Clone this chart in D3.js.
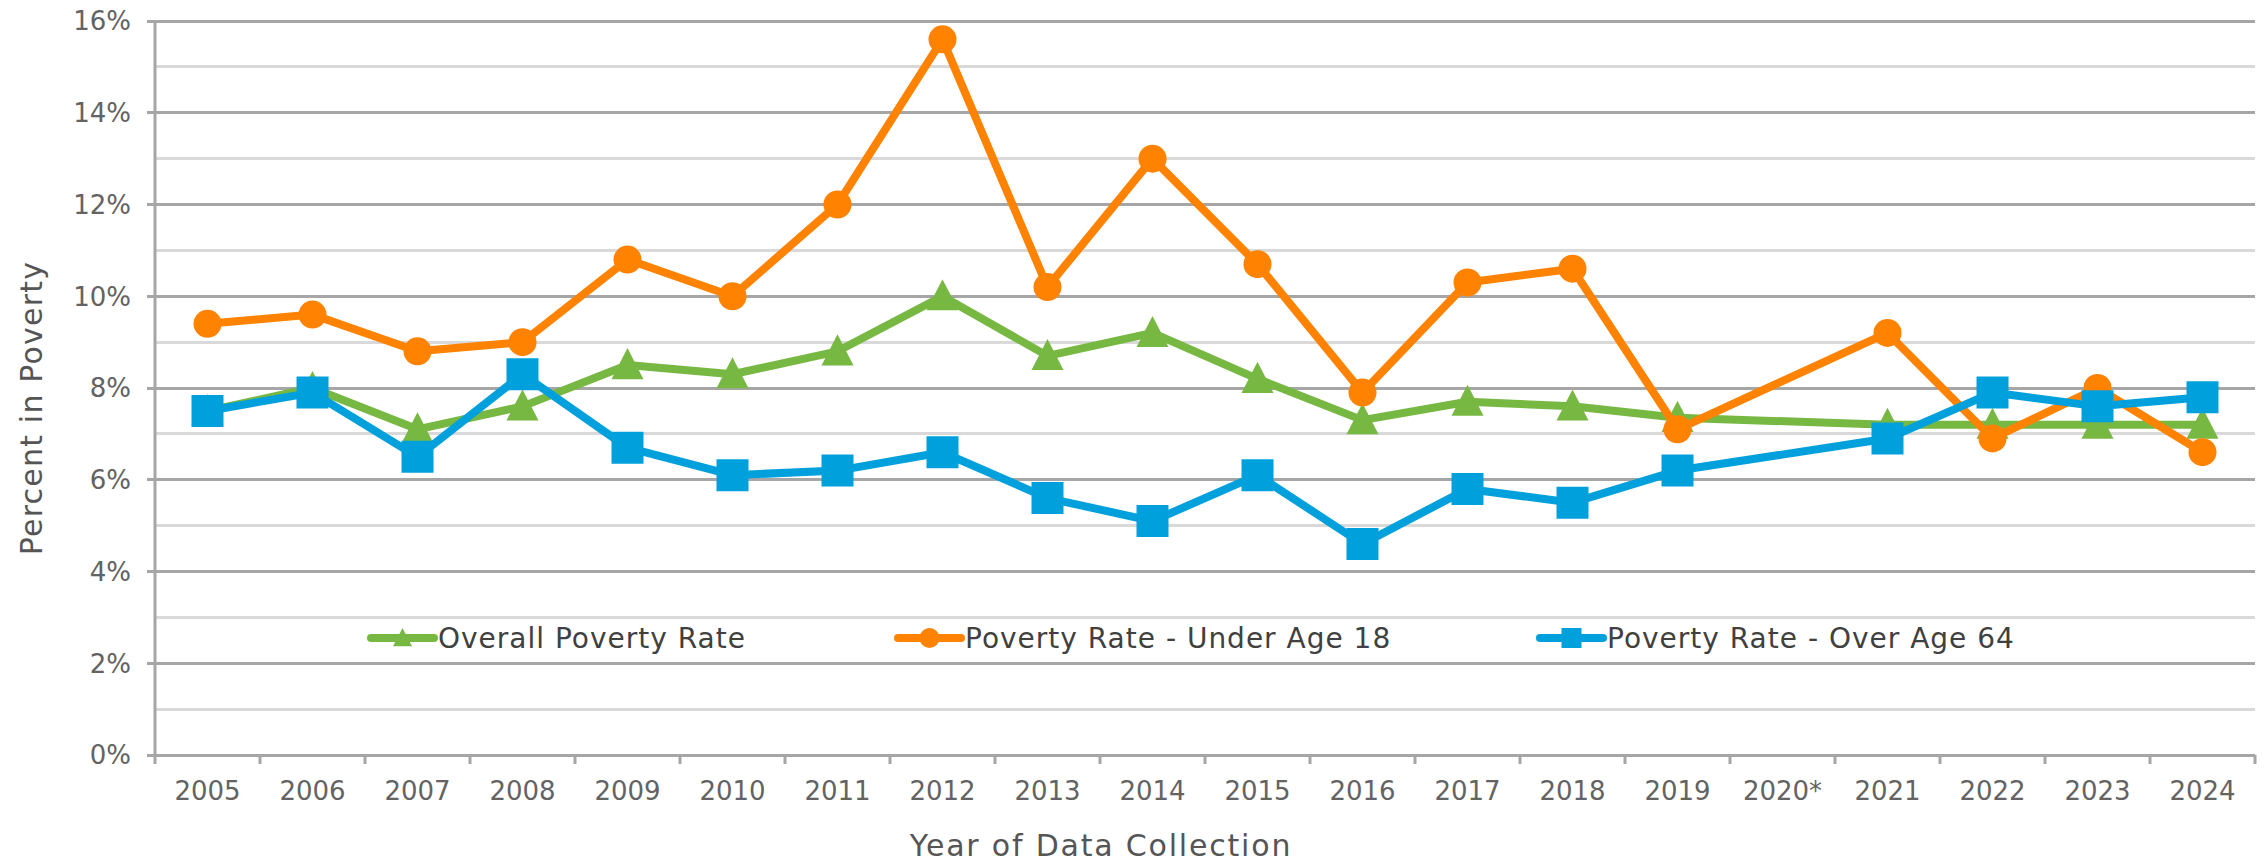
<!DOCTYPE html>
<html lang="en">
<head>
  <meta charset="UTF-8">
  <title>Poverty Rates by Year</title>
  <style>
  body { margin: 0; background: #fff; }
  svg { display: block; }
  .grid line { shape-rendering: crispEdges; }
  .tick-label { font-family: "DejaVu Sans", sans-serif; fill: #636363; }
  .axis-title { font-family: "DejaVu Sans", sans-serif; fill: #555; }
  .legend text { font-family: "DejaVu Sans", sans-serif; fill: #404040; }
  </style>
</head>
<body>
  <script src="https://d3js.org/d3.v7.min.js"></script>
  <script type="text/javascript">

    var width = 2264;
    var height = 867;

    // data (percent); 2020 has no value
    var years = ["2005","2006","2007","2008","2009","2010","2011","2012","2013","2014",
                 "2015","2016","2017","2018","2019","2020*","2021","2022","2023","2024"];
    var overall = [7.5, 8.0, 7.1, 7.6, 8.5, 8.3, 8.8, 10.0, 8.7, 9.2,
                   8.2, 7.3, 7.7, 7.6, 7.35, null, 7.2, 7.2, 7.2, 7.2];
    var under18 = [9.4, 9.6, 8.8, 9.0, 10.8, 10.0, 12.0, 15.6, 10.2, 13.0,
                   10.7, 7.9, 10.3, 10.6, 7.1, null, 9.2, 6.9, 8.0, 6.6];
    var over64  = [7.5, 7.9, 6.5, 8.3, 6.7, 6.1, 6.2, 6.6, 5.6, 5.1,
                   6.1, 4.6, 5.8, 5.5, 6.2, null, 6.9, 7.9, 7.6, 7.8];
    var seriesNames = ["Overall Poverty Rate", "Poverty Rate - Under Age 18", "Poverty Rate - Over Age 64"];
    var yTicks = [0, 2, 4, 6, 8, 10, 12, 14, 16];

    var margin = {left: 155, right: 9, top: 21, bottom: 112};

    var svg = d3.select("body")
        .append("svg")
          .attr("width", width)
          .attr("height", height);

    var x = d3.scaleBand()
        .domain(years)
        .range([margin.left, width - margin.right]);

    var y = d3.scaleLinear()
        .domain([0, 16])
        .range([height - margin.bottom, margin.top]);

    // gridlines: light at odd values, darker at even values
    var grid = svg.append("g").attr("class", "grid");
    grid.selectAll("line.minor")
        .data(d3.range(1, 16, 2))
        .enter().append("line")
          .attr("class", "minor")
          .attr("x1", margin.left).attr("x2", width - margin.right)
          .attr("y1", function(d){ return y(d); })
          .attr("y2", function(d){ return y(d); })
          .attr("stroke", "#d9d9d9")
          .attr("stroke-width", 3);
    grid.selectAll("line.major")
        .data(yTicks)
        .enter().append("line")
          .attr("class", "major")
          .attr("x1", margin.left - 8).attr("x2", width - margin.right)
          .attr("y1", function(d){ return y(d); })
          .attr("y2", function(d){ return y(d); })
          .attr("stroke", "#a6a6a6")
          .attr("stroke-width", 3);

    // y axis line
    svg.append("line")
        .attr("x1", margin.left).attr("x2", margin.left)
        .attr("y1", y(16)).attr("y2", y(0))
        .attr("stroke", "#a6a6a6")
        .attr("stroke-width", 3);

    // x axis ticks at band edges
    var edges = years.map(function(d){ return x(d); }).concat([x.range()[1]]);
    svg.append("g")
        .selectAll("line")
        .data(edges)
        .enter().append("line")
          .attr("x1", function(d){ return d; })
          .attr("x2", function(d){ return d; })
          .attr("y1", y(0)).attr("y2", y(0) + 9)
          .attr("stroke", "#a6a6a6")
          .attr("stroke-width", 3);

    svg.append("g")
        .selectAll("text")
        .data(years)
        .enter().append("text")
          .attr("class", "tick-label")
          .attr("x", function(d){ return x(d) + x.bandwidth() / 2; })
          .attr("y", y(0) + 45)
          .attr("text-anchor", "middle")
          .style("font-size", "26px")
          .text(function(d){ return d; });

    svg.append("g")
        .selectAll("text")
        .data(yTicks)
        .enter().append("text")
          .attr("class", "tick-label")
          .attr("x", margin.left - 24)
          .attr("y", function(d){ return y(d); })
          .attr("dy", "0.36em")
          .attr("text-anchor", "end")
          .style("font-size", "26px")
          .text(function(d){ return d + "%"; });

    // axis titles
    svg.append("text")
        .attr("class", "axis-title")
        .attr("transform", "translate(42," + (y(8) + 20) + ") rotate(-90)")
        .attr("text-anchor", "middle")
        .style("font-size", "30px")
        .style("letter-spacing", "1.2px")
        .text("Percent in Poverty");

    svg.append("text")
        .attr("class", "axis-title")
        .attr("x", 1101)
        .attr("y", 856)
        .attr("text-anchor", "middle")
        .style("font-size", "30px")
        .style("letter-spacing", "1.8px")
        .text("Year of Data Collection");

    // marker shapes
    function triangle(s) {
      return "M0," + (-s * 1.06) + "L" + s + "," + (s * 0.88) + "L" + (-s) + "," + (s * 0.88) + "Z";
    }
    function circle(s) {
      return "M" + (-s) + ",0A" + s + "," + s + " 0 1,0 " + s + ",0A" + s + "," + s + " 0 1,0 " + (-s) + ",0Z";
    }
    function square(s) {
      return "M" + (-s) + "," + (-s) + "H" + s + "V" + s + "H" + (-s) + "Z";
    }

    var series = [
      {name: seriesNames[0], values: overall, color: "#77b843", shape: triangle, size: 16, legSize: 9.5},
      {name: seriesNames[1], values: under18, color: "#ff8200", shape: circle, size: 14, legSize: 10},
      {name: seriesNames[2], values: over64,  color: "#00a0dc", shape: square, size: 16, legSize: 10}
    ];

    var line = d3.line()
        .x(function(d){ return x(d.year) + x.bandwidth() / 2; })
        .y(function(d){ return y(d.value); });

    series.forEach(function(s){
      var pts = years.map(function(yr, i){ return {year: yr, value: s.values[i]}; })
                     .filter(function(d){ return d.value != null; });
      var g = svg.append("g");
      g.append("path")
          .datum(pts)
          .attr("fill", "none")
          .attr("stroke", s.color)
          .attr("stroke-width", 8)
          .attr("stroke-linejoin", "round")
          .attr("d", line);
      g.selectAll("path.marker")
          .data(pts)
          .enter().append("path")
            .attr("class", "marker")
            .attr("transform", function(d){
              return "translate(" + (x(d.year) + x.bandwidth() / 2) + "," + y(d.value) + ")";
            })
            .attr("d", s.shape(s.size))
            .attr("fill", s.color);
    });

    // legend inside the plot
    var legendX = [371, 898, 1540];
    var legendY = 638;
    var legend = svg.append("g").attr("class", "legend");
    series.forEach(function(s, i){
      var lg = legend.append("g")
          .attr("transform", "translate(" + legendX[i] + "," + legendY + ")");
      lg.append("line")
          .attr("x1", 0).attr("x2", 63)
          .attr("stroke", s.color)
          .attr("stroke-width", 8)
          .attr("stroke-linecap", "round");
      lg.append("path")
          .attr("transform", "translate(31.5,0)")
          .attr("d", s.shape(s.legSize))
          .attr("fill", s.color);
      lg.append("text")
          .attr("x", 67)
          .attr("dy", "0.36em")
          .style("font-size", "28px")
          .style("letter-spacing", "1px")
          .text(s.name);
    });

  </script>
</body>
</html>
